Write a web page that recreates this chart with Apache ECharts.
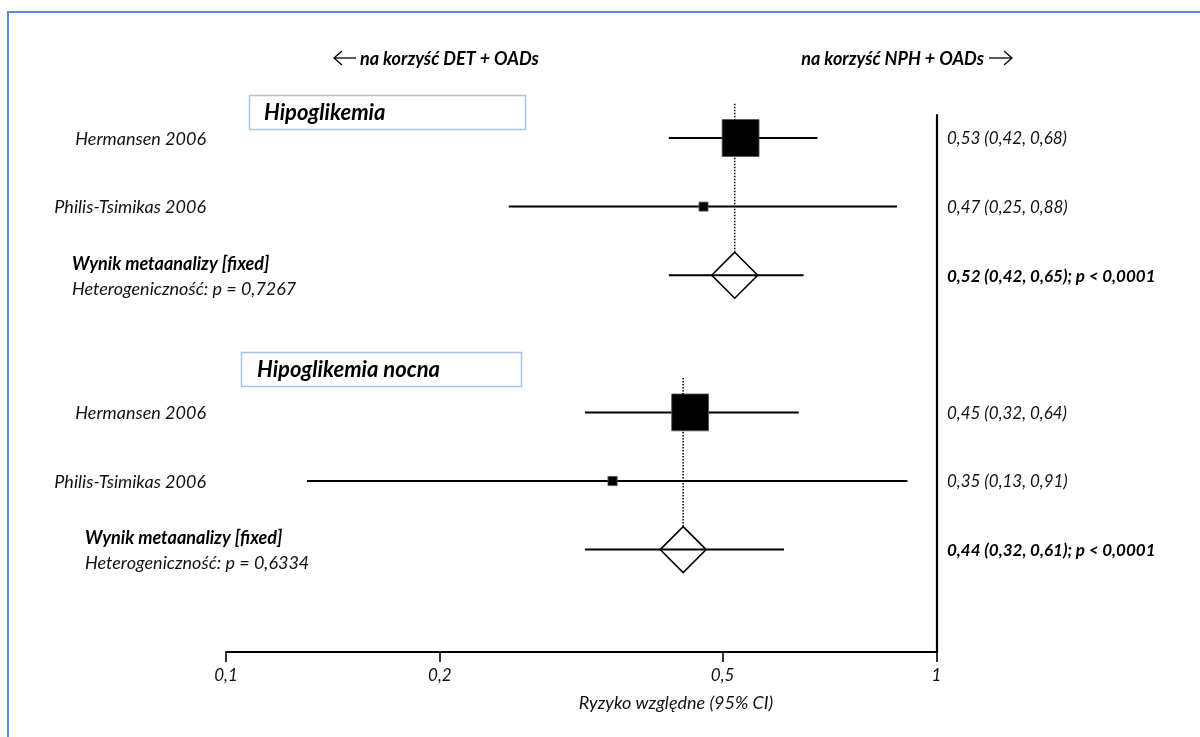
<!DOCTYPE html>
<html lang="pl">
<head>
<meta charset="utf-8">
<title>Ryzyko względne – hipoglikemia</title>
<script src="https://cdn.jsdelivr.net/npm/echarts@6/dist/echarts.min.js"></script>
<style>
  html, body { margin: 0; padding: 0; background: #ffffff; }
  #chart { width: 1200px; height: 737px; }
</style>
</head>
<body>
<div id="chart"></div>
<script>
// ---- data ----
const groupTitles = ['Hipoglikemia', 'Hipoglikemia nocna'];
const studyNames = ['Hermansen 2006', 'Philis-Tsimikas 2006'];

// relative risk with 95% CI, per study
const hipoRR = [0.53, 0.47];
const hipoLow = [0.42, 0.25];
const hipoHigh = [0.68, 0.88];
const hipoWeight = [94.4, 5.6];

const nocnaRR = [0.45, 0.35];
const nocnaLow = [0.32, 0.13];
const nocnaHigh = [0.64, 0.91];
const nocnaWeight = [94.1, 5.9];

// pooled (fixed effect) results: [RR, low, high]
const pooledHipo = [0.52, 0.42, 0.65];
const pooledNocna = [0.44, 0.32, 0.61];
const pooledP = ['< 0,0001', '< 0,0001'];
const heterogeneityP = ['0,7267', '0,6334'];

const tickValues = [0.1, 0.2, 0.5, 1];
const tickLabels = ['0,1', '0,2', '0,5', '1'];

const favourLeft = 'na korzyść DET + OADs';
const favourRight = 'na korzyść NPH + OADs';
const axisTitle = 'Ryzyko względne (95% CI)';
const metaLabel = 'Wynik metaanalizy [fixed]';

// ---- layout / style ----
const FONT = 'Lato, "Noto Sans", sans-serif';
const ROWS_PER_GROUP = 4;           // 2 studies + pooled + spacer
const LEFT_LABEL_X = 206;
const RIGHT_LABEL_X = 947;
const META_LABEL_X = [72, 85];
const BORDER_BLUE = '#5b8bd5';
const BOX_BLUE = '#a9c2e6';

const fmt = v => v.toFixed(2).replace('.', ',');

const groups = [
  { rr: hipoRR, low: hipoLow, high: hipoHigh, w: hipoWeight, pooled: pooledHipo },
  { rr: nocnaRR, low: nocnaLow, high: nocnaHigh, w: nocnaWeight, pooled: pooledNocna }
];

// rows: [row, rr, low, high, weight, group, studyIndex]
const studyRows = [];
const pooledRows = [];
groups.forEach((g, gi) => {
  g.rr.forEach((rr, i) => {
    studyRows.push([gi * ROWS_PER_GROUP + i, rr, g.low[i], g.high[i], g.w[i], gi, i]);
  });
  pooledRows.push([gi * ROWS_PER_GROUP + g.rr.length, g.pooled[0], g.pooled[1], g.pooled[2], gi, g.rr.length]);
});

const chart = echarts.init(document.getElementById('chart'), null, { renderer: 'canvas' });

function renderStudy(params, api) {
  const row = api.value(0), rr = api.value(1), lo = api.value(2), hi = api.value(3), w = api.value(4);
  const si = api.value(6);
  const c = api.coord([rr, row]);
  const pLo = api.coord([lo, row]);
  const pHi = api.coord([hi, row]);
  const s = 38 * Math.sqrt(w / 100);
  return {
    type: 'group',
    children: [
      { type: 'line', shape: { x1: pLo[0], y1: c[1], x2: pHi[0], y2: c[1] },
        style: { stroke: '#000', lineWidth: 2 } },
      { type: 'rect', shape: { x: c[0] - s / 2, y: c[1] - s / 2, width: s, height: s },
        style: { fill: '#000', stroke: '#555', lineWidth: 0.8 } },
      { type: 'text', style: { text: studyNames[si], x: LEFT_LABEL_X, y: c[1] + 1,
        align: 'right', verticalAlign: 'middle', font: 'italic 18px ' + FONT, fill: '#111' } },
      { type: 'text', style: { text: `${fmt(rr)} (${fmt(lo)}, ${fmt(hi)})`, x: RIGHT_LABEL_X, y: c[1] + 1,
        align: 'left', verticalAlign: 'middle', font: 'italic 17px ' + FONT, fill: '#111' } }
    ]
  };
}

function renderPooled(params, api) {
  const row = api.value(0), rr = api.value(1), lo = api.value(2), hi = api.value(3);
  const gi = api.value(4);
  const c = api.coord([rr, row]);
  const pLo = api.coord([lo, row]);
  const pHi = api.coord([hi, row]);
  const top = api.coord([rr, gi * ROWS_PER_GROUP - 0.5]);
  const hw = 23, hh = 23;
  return {
    type: 'group',
    children: [
      // dotted reference line at the pooled estimate
      { type: 'line', shape: { x1: c[0], y1: top[1], x2: c[0], y2: c[1] - hh },
        style: { stroke: '#000', lineWidth: 1.5, lineDash: [1.5, 1.5] } },
      { type: 'polygon', shape: { points: [[c[0], c[1] - hh], [c[0] + hw, c[1]], [c[0], c[1] + hh], [c[0] - hw, c[1]]] },
        style: { fill: 'none', stroke: '#000', lineWidth: 1.6 } },
      { type: 'line', shape: { x1: pLo[0], y1: c[1], x2: pHi[0], y2: c[1] },
        style: { stroke: '#000', lineWidth: 2 } },
      { type: 'text', style: { text: metaLabel, x: META_LABEL_X[gi], y: c[1] - 11,
        align: 'left', verticalAlign: 'middle', font: 'italic bold 18px ' + FONT, fill: '#000' } },
      { type: 'text', style: { text: 'Heterogeniczność: p = ' + heterogeneityP[gi], x: META_LABEL_X[gi], y: c[1] + 14,
        align: 'left', verticalAlign: 'middle', font: 'italic 18px ' + FONT, fill: '#111' } },
      { type: 'text', style: { text: `${fmt(rr)} (${fmt(lo)}, ${fmt(hi)}); p ${pooledP[gi]}`, x: RIGHT_LABEL_X, y: c[1] + 1,
        align: 'left', verticalAlign: 'middle', font: 'italic bold 17px ' + FONT, fill: '#000' } }
    ]
  };
}

function headerArrow(x1, x2, y) {
  return {
    type: 'polyline',
    shape: { points: [[x1, y], [x2, y]] },
    style: { stroke: '#000', lineWidth: 1.3 }
  };
}
function arrowHead(x, y, dir) {
  return {
    type: 'polyline',
    shape: { points: [[x - dir * 8, y - 7], [x, y], [x - dir * 8, y + 7]] },
    style: { stroke: '#000', lineWidth: 1.3, fill: 'none' }
  };
}

const option = {
  backgroundColor: '#ffffff',
  animation: false,
  grid: { left: 226, right: 263.5, top: 115, bottom: 85 },
  xAxis: {
    type: 'log',
    logBase: 10,
    min: 0.1,
    max: 1,
    axisLine: { show: true, onZero: false, lineStyle: { color: '#000', width: 2 } },
    axisTick: { show: true, inside: false, length: 10, lineStyle: { color: '#000', width: 1.6 },
      customValues: tickValues },
    minorTick: { show: false },
    splitLine: { show: false },
    axisLabel: {
      customValues: tickValues,
      margin: 15,
      fontFamily: FONT, fontStyle: 'italic', fontSize: 17, color: '#111',
      formatter: v => {
        const idx = tickValues.findIndex(t => Math.abs(t - v) < 1e-6);
        return idx >= 0 ? tickLabels[idx] : '';
      }
    }
  },
  yAxis: {
    type: 'value',
    inverse: true,
    position: 'right',
    min: -0.3353,
    max: 7.4927,
    axisLine: { show: true, onZero: false, lineStyle: { color: '#000', width: 2.2 } },
    axisTick: { show: false },
    axisLabel: { show: false },
    splitLine: { show: false }
  },
  series: [
    { type: 'custom', renderItem: renderStudy, data: studyRows, clip: false, z: 3,
      encode: { x: [1, 2, 3], y: 0 } },
    { type: 'custom', renderItem: renderPooled, data: pooledRows, clip: false, z: 3,
      encode: { x: [1, 2, 3], y: 0 } }
  ],
  graphic: [
    // frame
    { type: 'rect', shape: { x: 8, y: 12, width: 1300, height: 800 },
      style: { fill: 'none', stroke: BORDER_BLUE, lineWidth: 2 }, silent: true },
    // direction headers
    { type: 'text', style: { text: favourLeft, x: 360, y: 59, align: 'left', verticalAlign: 'middle',
      font: 'italic bold 18px ' + FONT, fill: '#000' } },
    headerArrow(334, 356, 58),
    arrowHead(334, 58, -1),
    { type: 'text', style: { text: favourRight, x: 984, y: 59, align: 'right', verticalAlign: 'middle',
      font: 'italic bold 18px ' + FONT, fill: '#000' } },
    headerArrow(989, 1012, 58),
    arrowHead(1012, 58, 1),
    // group title boxes
    { type: 'rect', shape: { x: 249.5, y: 95.5, width: 276, height: 34 },
      style: { fill: '#fff', stroke: BOX_BLUE, lineWidth: 1.5 } },
    { type: 'text', style: { text: groupTitles[0], x: 264, y: 113, align: 'left', verticalAlign: 'middle',
      font: 'italic bold 22px ' + FONT, fill: '#000' } },
    { type: 'rect', shape: { x: 241.5, y: 352.5, width: 280, height: 34 },
      style: { fill: '#fff', stroke: BOX_BLUE, lineWidth: 1.5 } },
    { type: 'text', style: { text: groupTitles[1], x: 257, y: 370, align: 'left', verticalAlign: 'middle',
      font: 'italic bold 22px ' + FONT, fill: '#000' } },
    // axis title
    { type: 'text', style: { text: axisTitle, x: 676, y: 703, align: 'center', verticalAlign: 'middle',
      font: 'italic 18px ' + FONT, fill: '#111' } }
  ]
};

chart.setOption(option);
</script>
</body>
</html>
